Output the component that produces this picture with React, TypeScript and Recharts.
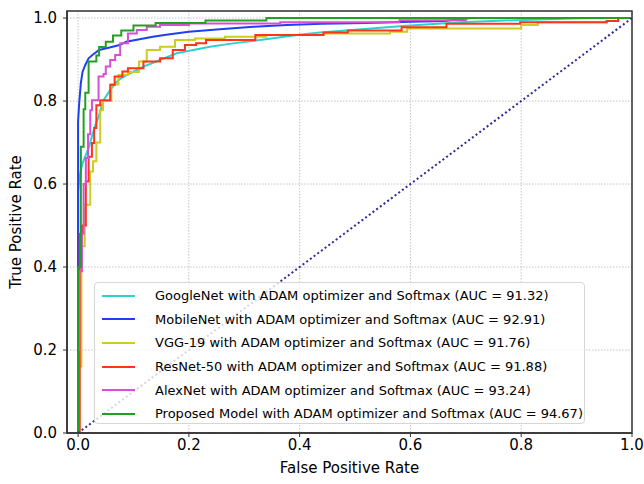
import React from 'react';
import {
  LineChart, Line, XAxis, YAxis, CartesianGrid, Legend, ReferenceArea,
} from 'recharts';

// ROC points: [false positive rate, true positive rate]
const googleNet: [number, number][] = [
  [0, 0], [0, 0.58], [0.003, 0.62], [0.008, 0.65], [0.014, 0.67], [0.02, 0.69],
  [0.026, 0.72], [0.032, 0.745], [0.037, 0.762], [0.046, 0.802], [0.058, 0.827],
  [0.073, 0.851], [0.094, 0.867], [0.118, 0.883], [0.148, 0.899], [0.178, 0.915],
  [0.208, 0.923], [0.238, 0.931], [0.28, 0.939], [0.329, 0.947], [0.395, 0.959],
  [0.437, 0.965], [0.5, 0.972], [0.587, 0.981], [0.69, 0.99], [0.79, 0.995],
  [0.92, 1.0], [1, 1],
];
const mobileNet: [number, number][] = [
  [0, 0], [0, 0.75], [0.002, 0.795], [0.005, 0.843], [0.008, 0.87], [0.013, 0.887],
  [0.019, 0.903], [0.027, 0.912], [0.038, 0.923], [0.057, 0.929], [0.075, 0.935],
  [0.087, 0.943], [0.111, 0.949], [0.135, 0.955], [0.159, 0.96], [0.2, 0.967],
  [0.256, 0.973], [0.316, 0.979], [0.377, 0.983], [0.44, 0.986], [0.52, 0.988],
  [0.6, 0.991], [0.66, 0.993], [0.71, 1.0], [1, 1],
];
const vgg19: [number, number][] = [
  [0, 0], [0.002, 0.16], [0.006, 0.45], [0.012, 0.55], [0.022, 0.63], [0.027, 0.655],
  [0.033, 0.7], [0.04, 0.778], [0.045, 0.8], [0.06, 0.84], [0.073, 0.863],
  [0.09, 0.87], [0.11, 0.895], [0.124, 0.923], [0.148, 0.931], [0.175, 0.947],
  [0.211, 0.951], [0.265, 0.955], [0.34, 0.959], [0.443, 0.963], [0.563, 0.967],
  [0.594, 0.975], [0.8, 0.983], [0.83, 0.99], [0.955, 0.993], [0.975, 1.0], [1, 1],
];
const resNet50: [number, number][] = [
  [0, 0], [0.003, 0.48], [0.007, 0.5], [0.014, 0.606], [0.019, 0.666], [0.025, 0.699],
  [0.029, 0.735], [0.033, 0.79], [0.04, 0.802], [0.058, 0.839], [0.066, 0.859],
  [0.08, 0.871], [0.09, 0.879], [0.118, 0.895], [0.148, 0.903], [0.171, 0.923],
  [0.193, 0.935], [0.213, 0.939], [0.231, 0.947], [0.32, 0.959], [0.443, 0.965],
  [0.487, 0.97], [0.584, 0.978], [0.665, 0.986], [0.798, 0.99], [0.954, 0.993],
  [0.975, 1.0], [1, 1],
];
const alexNet: [number, number][] = [
  [0, 0], [0, 0.2], [0.002, 0.39], [0.007, 0.48], [0.01, 0.6], [0.014, 0.663],
  [0.018, 0.72], [0.022, 0.778], [0.025, 0.802], [0.037, 0.859], [0.046, 0.865],
  [0.05, 0.883], [0.058, 0.899], [0.067, 0.911], [0.076, 0.939], [0.09, 0.963],
  [0.106, 0.971], [0.124, 0.979], [0.148, 0.983], [0.2, 0.987], [0.365, 0.99],
  [0.58, 0.995], [0.7, 1.0], [1, 1],
];
const proposed: [number, number][] = [
  [0, 0], [0, 0.4], [0.005, 0.69], [0.01, 0.78], [0.013, 0.82], [0.019, 0.895],
  [0.033, 0.91], [0.038, 0.93], [0.05, 0.943], [0.063, 0.958], [0.078, 0.97],
  [0.1, 0.982], [0.14, 0.988], [0.23, 0.994], [0.34, 1.0], [1, 1],
];
const chance: [number, number][] = [[0, 0], [1, 1]];

const xTicks = [0, 0.2, 0.4, 0.6, 0.8, 1.0];
const yTicks = [0, 0.2, 0.4, 0.6, 0.8, 1.0];

const series = [
  { name: 'GoogleNet with ADAM optimizer and Softmax (AUC = 91.32)', points: googleNet, color: '#2fd0d0', curve: 'linear' },
  { name: 'MobileNet with ADAM optimizer and Softmax (AUC = 92.91)', points: mobileNet, color: '#1f3ff0', curve: 'linear' },
  { name: 'VGG-19 with ADAM optimizer and Softmax (AUC = 91.76)', points: vgg19, color: '#cccc22', curve: 'stepAfter' },
  { name: 'ResNet-50 with ADAM optimizer and Softmax (AUC = 91.88)', points: resNet50, color: '#ff3517', curve: 'stepAfter' },
  { name: 'AlexNet with ADAM optimizer and Softmax (AUC = 93.24)', points: alexNet, color: '#d64fd6', curve: 'stepAfter' },
  { name: 'Proposed Model with ADAM optimizer and Softmax (AUC = 94.67)', points: proposed, color: '#22a022', curve: 'stepAfter' },
];

const toRows = (pts: [number, number][]) => pts.map(([x, y]) => ({ x, y }));

const font = '"DejaVu Sans", Verdana, sans-serif';

const RocLegend = () => (
  <div
    style={{
      width: 491,
      height: 142,
      boxSizing: 'border-box',
      border: '1px solid #d6d6d6',
      borderRadius: 4,
      background: 'rgba(255,255,255,0.8)',
      paddingTop: 1,
      fontFamily: font,
      fontSize: 13,
      color: '#000',
    }}
  >
    {series.map((s) => (
      <div key={s.name} style={{ height: 23.6, display: 'flex', alignItems: 'center' }}>
        <svg width={58} height={10} style={{ flexShrink: 0 }}>
          <line x1={7} y1={5} x2={40} y2={5} stroke={s.color} strokeWidth={2} />
        </svg>
        <span style={{ marginLeft: 2, whiteSpace: 'nowrap' }}>{s.name}</span>
      </div>
    ))}
  </div>
);

const App: React.FC = () => {
  return (
    <div style={{ position: 'absolute', left: 0, top: 0, width: 644, height: 484, background: '#fff' }}>
      <LineChart
        width={644}
        height={484}
        margin={{ top: 11, right: 12, left: 12, bottom: 11 }}
        style={{ fontFamily: font }}
      >
        <CartesianGrid stroke="#c4c4c4" strokeDasharray="1.5 1.5" />
        <XAxis
          type="number"
          dataKey="x"
          domain={[-0.02, 1.0]}
          ticks={xTicks}
          allowDataOverflow
          tickFormatter={(v: number) => v.toFixed(1)}
          tick={{ fill: '#000', fontSize: 15 }}
          tickSize={4}
          tickMargin={2}
          height={40}
          axisLine={{ stroke: '#333', strokeWidth: 1.5 }}
          tickLine={{ stroke: '#333' }}
          label={{ value: 'False Positive Rate', position: 'insideBottom', offset: 0, fill: '#000', fontSize: 15 }}
        />
        <YAxis
          type="number"
          dataKey="y"
          domain={[0, 1.017]}
          ticks={yTicks}
          allowDataOverflow
          tickFormatter={(v: number) => v.toFixed(1)}
          tick={{ fill: '#000', fontSize: 15 }}
          tickSize={4}
          tickMargin={6}
          width={55}
          axisLine={{ stroke: '#333', strokeWidth: 1.5 }}
          tickLine={{ stroke: '#333' }}
          label={{ value: 'True Positive Rate', angle: -90, position: 'insideLeft', offset: 4, fill: '#000', fontSize: 15, style: { textAnchor: 'middle' } }}
        />
        <ReferenceArea
          x1={-0.02}
          x2={1.0}
          y1={0}
          y2={1.017}
          fill="none"
          fillOpacity={0}
          stroke="#333"
          strokeWidth={1.5}
          ifOverflow="visible"
        />
        {series.map((s) => (
          <Line
            key={s.name}
            data={toRows(s.points)}
            dataKey="y"
            name={s.name}
            type={s.curve as 'linear' | 'stepAfter'}
            stroke={s.color}
            strokeWidth={2}
            dot={false}
            activeDot={false}
            isAnimationActive={false}
          />
        ))}
        <Line
          data={toRows(chance)}
          dataKey="y"
          name="chance"
          type="linear"
          stroke="#2a2a9a"
          strokeWidth={2}
          strokeDasharray="2 2.6"
          dot={false}
          activeDot={false}
          legendType="none"
          isAnimationActive={false}
        />
        <Legend
          layout="vertical"
          align="center"
          verticalAlign="middle"
          content={() => <RocLegend />}
          wrapperStyle={{ left: 94, top: 282, width: 491, height: 142 }}
        />
      </LineChart>
    </div>
  );
};

export default App;
